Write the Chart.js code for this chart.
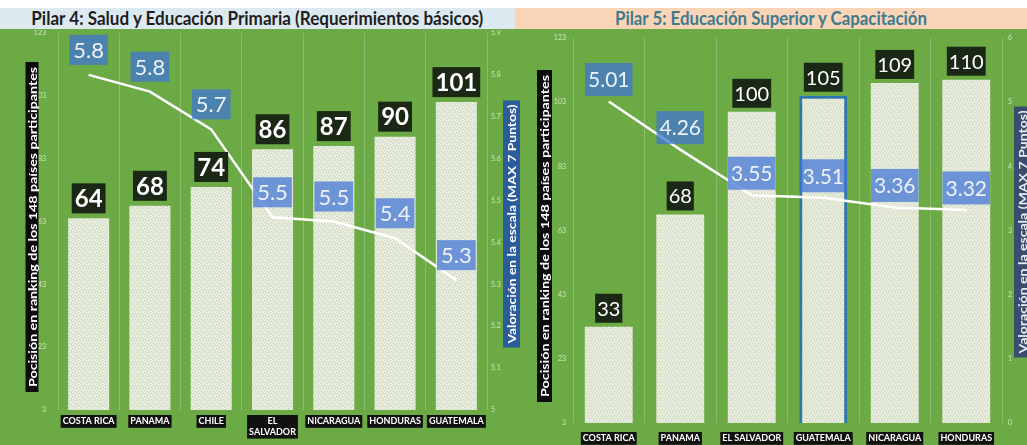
<!DOCTYPE html>
<html><head><meta charset="utf-8">
<script src="https://cdn.jsdelivr.net/npm/chart.js@4.4.1/dist/chart.umd.min.js"></script>
<style>
html,body{margin:0;padding:0;width:1027px;height:445px;overflow:hidden;background:#fff;font-family:Lato,sans-serif}
#green{position:absolute;left:0;top:29px;width:1027px;height:416px;background:#6caa45}
.tbar{position:absolute;top:8px;height:21px;overflow:hidden;text-align:center;white-space:nowrap}
.tbar span{display:inline-block;font-weight:bold;font-size:18px;line-height:21px;transform-origin:center}
#t1{left:0;width:515px;background:#dce9f1;color:#1e1e1e}
#t2{left:515px;width:512px;background:#fad4b6;color:#3e7b8e}
#c1w{position:absolute;left:0;top:30px;width:530px;height:415px}
#c2w{position:absolute;left:515px;top:30px;width:512px;height:415px}
</style></head>
<body>
<div id="green"></div>
<div class="tbar" id="t1"><span data-w="452">Pilar 4: Salud y Educación Primaria (Requerimientos básicos)</span></div>
<div class="tbar" id="t2"><span data-w="312">Pilar 5: Educación Superior y Capacitación</span></div>
<div id="c1w"><canvas id="c1" width="530" height="415"></canvas></div>
<div id="c2w"><canvas id="c2" width="512" height="415"></canvas></div>
<script>
// ---- data ----
const pilar4Categories = ['COSTA RICA','PANAMA','CHILE',['EL','SALVADOR'],'NICARAGUA','HONDURAS','GUATEMALA'];
const pilar4Ranking = [64,68,74,86,87,90,101];
const pilar4Score = [5.80,5.76,5.67,5.46,5.45,5.41,5.31];
const pilar5Categories = ['COSTA RICA','PANAMA','EL SALVADOR','GUATEMALA','NICARAGUA','HONDURAS'];
const pilar5Ranking = [33,68,100,105,109,110];
const pilar5Score = [5.01,4.26,3.55,3.51,3.36,3.32];
const rankTicks = {min:3, max:123, step:20};
const score4Ticks = {min:5, max:5.9, step:0.1};
const score5Ticks = {min:0, max:6, step:1};
const rankTitle = 'Pocisión en ranking de los 148 países participantes';
const scoreTitle = 'Valoración en la escala (MAX 7 Puntos)';

document.querySelectorAll('.tbar span').forEach(s=>{
  const w = s.getBoundingClientRect().width;
  s.style.transform = 'scaleX(' + (parseFloat(s.dataset.w)/w) + ')';
});

function makePattern(ctx){
  const c = document.createElement('canvas'); c.width=6; c.height=6;
  const g = c.getContext('2d');
  g.fillStyle='#e3e9d6'; g.fillRect(0,0,6,6);
  g.fillStyle='#c8d2ba';
  [[0,0],[3,1],[1,3],[4,4],[5,2],[2,5]].forEach(p=>g.fillRect(p[0],p[1],1,1));
  g.fillStyle='#f4f7ef';
  [[2,0],[5,0],[0,2],[3,3],[1,5],[4,5]].forEach(p=>g.fillRect(p[0],p[1],1,1));
  return ctx.createPattern(c,'repeat');
}

// black boxes behind the category labels (drawn before the scale paints its text)
const xBackdrops = {
  id:'xBackdrops',
  beforeDraw(chart){
    const s = chart.scales.x, ctx = chart.ctx;
    const t = s.options.ticks;
    const f = Chart.helpers.toFont(t.font);
    ctx.save();
    ctx.font = f.string;
    ctx.fillStyle = '#111111';
    s.ticks.forEach((tk,i)=>{
      const lbl = chart.data.labels[i];
      const lines = Array.isArray(lbl) ? lbl : [lbl];
      const w = Math.max(...lines.map(l=>ctx.measureText(l).width));
      const h = lines.length * f.lineHeight;
      const x = s.getPixelForTick(i);
      const top = s.top + t.padding;
      ctx.fillRect(x - w/2 - 2, top - 1, w + 4, h + 2);
    });
    ctx.restore();
  }
};

const valueLabels = {
  id:'valueLabels',
  afterDatasetsDraw(chart, args, opts){
    const ctx = chart.ctx;
    ['bar','line'].forEach(kind=>{
      chart.data.datasets.forEach((ds,i)=>{
        if (ds.type !== kind) return;
        const st = opts[kind];
        const meta = chart.getDatasetMeta(i);
        meta.data.forEach((el,j)=>{
          const text = ds.data[j].toFixed(st.decimals);
          ctx.save();
          ctx.font = st.font;
          const w = ctx.measureText(text).width + st.padX*2;
          const h = st.h;
          const cx = el.x;
          const cy = kind==='bar' ? el.y - st.gap - h/2 : el.y - st.offset;
          ctx.fillStyle = st.bg;
          ctx.fillRect(cx-w/2, cy-h/2, w, h);
          ctx.fillStyle = st.color;
          ctx.textAlign='center'; ctx.textBaseline='middle';
          ctx.fillText(text, cx, cy+1);
          ctx.restore();
        });
      });
    });
  }
};

const axisBoxes = {
  id:'axisBoxes',
  afterDraw(chart, args, opts){
    const ctx = chart.ctx;
    opts.items.forEach(it=>{
      ctx.save();
      ctx.translate(it.cx, it.cy);
      ctx.rotate(-Math.PI/2);
      ctx.fillStyle = it.bg;
      ctx.fillRect(-it.len/2, -it.thick/2, it.len, it.thick);
      ctx.font = it.font;
      const tw = ctx.measureText(it.text).width;
      ctx.scale((it.len - 2*it.pad)/tw, 1);
      ctx.fillStyle = it.color;
      ctx.textAlign='center'; ctx.textBaseline='middle';
      ctx.fillText(it.text, 0, 1);
      ctx.restore();
    });
  }
};

const tickFont = {family:'Lato', size:7};
const tickColor = 'rgba(225,240,210,0.85)';
const gridColor = 'rgba(255,255,255,0.22)';
const xTicks = (pad)=>({color:'#ffffff', font:{family:'Lato', weight:'bold', size:9}, padding:pad,
  maxRotation:0, autoSkip:false});
const labelBlue = 'rgba(62,115,215,0.72)';

function makeChart(id, cats, ranks, scores, scoreTk, o){
  const ctx = document.getElementById(id).getContext('2d');
  return new Chart(ctx, {
    data:{
      labels:cats,
      datasets:[
        {type:'line', data:scores, yAxisID:'y1', borderColor:'#ffffff', borderWidth:2.5,
         pointRadius:0, tension:0, order:0},
        {type:'bar', data:ranks, yAxisID:'y', backgroundColor:makePattern(ctx),
         borderColor:'#2e75b6', borderWidth:o.barBorders, borderSkipped:false,
         barPercentage:0.67, categoryPercentage:1.0, order:1}
      ]
    },
    options:{
      responsive:false, animation:false, events:[],
      layout:{padding:{top:o.padTop, left:0, right:0, bottom:0}},
      plugins:{legend:{display:false}, tooltip:{enabled:false},
        valueLabels:o.labels, axisBoxes:{items:o.titles}},
      scales:{
        x:{grid:{color:gridColor, lineWidth:1, drawTicks:false, offset:true}, border:{display:false},
           ticks:xTicks(o.xPad), afterFit:s=>{s.height=o.xH;}},
        y:{position:'left', min:rankTicks.min, max:rankTicks.max,
           ticks:{stepSize:rankTicks.step, font:tickFont, color:tickColor, padding:o.yPad},
           grid:{display:false, drawTicks:false}, border:{display:false},
           afterFit:s=>{s.width=58; s.paddingTop=2; s.paddingBottom=4;}},
        y1:{position:'right', min:scoreTk.min, max:scoreTk.max,
           ticks:{stepSize:scoreTk.step, font:tickFont, color:tickColor, padding:o.y1Pad,
                  callback:v=>String(+v.toFixed(1))},
           grid:{display:false, drawTicks:false}, border:{display:false},
           afterFit:s=>{s.width=o.y1W; s.paddingTop=2; s.paddingBottom=4;}}
      }
    },
    plugins:[xBackdrops, valueLabels, axisBoxes]
  });
}

makeChart('c1', pilar4Categories, pilar4Ranking, pilar4Score, score4Ticks, {
  padTop:3, xH:35, xPad:6, yPad:12, y1Pad:4, y1W:43,
  barBorders:pilar4Ranking.map(()=>0),
  labels:{
    bar:{font:'bold 24px Lato', padX:3, h:30, gap:5, bg:'#1a2815', color:'#ffffff', decimals:0},
    line:{font:'22px Lato', padX:4, h:30, offset:25, bg:labelBlue, color:'#eef2f8', decimals:1}
  },
  titles:[
    {text:rankTitle, cx:32, cy:197, len:330, thick:13, pad:5, bg:'#0d0d0d', color:'#ffffff', font:'bold 11px Lato'},
    {text:scoreTitle, cx:511.5, cy:194, len:247, thick:17, pad:4, bg:'#2b5c9c', color:'#ffffff', font:'bold 12px Lato'}
  ]
});

makeChart('c2', pilar5Categories, pilar5Ranking, pilar5Score, score5Ticks, {
  padTop:8, xH:22, xPad:10, yPad:7, y1Pad:6, y1W:25,
  barBorders:pilar5Categories.map(c=>c==='GUATEMALA'?3:0),
  labels:{
    bar:{font:'20px Lato', padX:2, h:29, gap:4, bg:'#1a2815', color:'#ffffff', decimals:0},
    line:{font:'21px Lato', padX:3, h:33, offset:22, bg:labelBlue, color:'#eef2f8', decimals:2}
  },
  titles:[
    {text:rankTitle, cx:29.5, cy:206, len:332, thick:15, pad:5, bg:'#0d0d0d', color:'#ffffff', font:'bold 12px Lato'},
    {text:scoreTitle, cx:507, cy:202, len:251, thick:16, pad:4, bg:'#3a4d6e', color:'#e8ecf2', font:'bold 12px Lato'}
  ]
});
</script>
</body></html>
